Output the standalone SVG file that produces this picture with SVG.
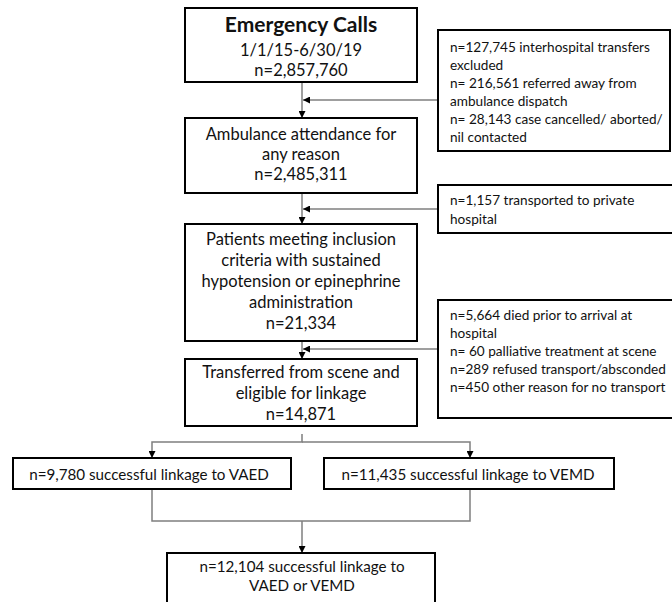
<svg xmlns="http://www.w3.org/2000/svg" width="672" height="602" viewBox="0 0 672 602">
<defs>
<style>
.box{fill:#fff;stroke:#000;stroke-width:2}
.t{font-family:Lato,"Open Sans",sans-serif;font-size:16.5px;fill:#111;text-anchor:middle}
.b{font-weight:bold;font-size:21px}
.m{font-size:15.2px}
.s{font-family:Lato,"Open Sans",sans-serif;font-size:13.6px;fill:#111}
.c{fill:none;stroke:#7f7f7f;stroke-width:1.5}
</style>
<marker id="ah" viewBox="0 0 10 10" refX="10" refY="5" markerWidth="7" markerHeight="7" markerUnits="userSpaceOnUse" orient="auto">
<path d="M0,0 L10,5 L0,10 z" fill="#000"/>
</marker>
</defs>
<rect width="672" height="602" fill="#fff"/>
<g id="connectors">
<path class="c" d="M302,82 V118" marker-end="url(#ah)"/>
<path class="c" d="M438,100 H303" marker-end="url(#ah)"/>
<path class="c" d="M302,193 V224" marker-end="url(#ah)"/>
<path class="c" d="M438,209 H303" marker-end="url(#ah)"/>
<path class="c" d="M302,341 V359" marker-end="url(#ah)"/>
<path class="c" d="M438,349 H303" marker-end="url(#ah)"/>
<path class="c" d="M302,434 V442 H152 V458" marker-end="url(#ah)"/>
<path class="c" d="M302,442 H470 V458" marker-end="url(#ah)"/>
<path class="c" d="M152,489 V521 H470 V489"/>
<path class="c" d="M302,521 V553" marker-end="url(#ah)"/>
</g>
<g id="n1">
<rect class="box" x="185" y="8" width="232" height="74"/>
<text class="t b" x="301" y="32">Emergency Calls</text>
<text class="t" x="301" y="56">1/1/15-6/30/19</text>
<text class="t" x="301" y="76">n=2,857,760</text>
</g>
<g id="n2">
<rect class="box" x="185" y="118" width="232" height="75"/>
<text class="t" x="301" y="140">Ambulance attendance for</text>
<text class="t" x="301" y="160">any reason</text>
<text class="t" x="301" y="180">n=2,485,311</text>
</g>
<g id="n3">
<rect class="box" x="185" y="224" width="232" height="117"/>
<text class="t" x="301" y="245">Patients meeting inclusion</text>
<text class="t" x="301" y="266">criteria with sustained</text>
<text class="t" x="301" y="287">hypotension or epinephrine</text>
<text class="t" x="301" y="308">administration</text>
<text class="t" x="301" y="329">n=21,334</text>
</g>
<g id="n4">
<rect class="box" x="185" y="359" width="232" height="67"/>
<text class="t" x="301" y="378">Transferred from scene and</text>
<text class="t" x="301" y="399">eligible for linkage</text>
<text class="t" x="301" y="420">n=14,871</text>
</g>
<g id="x1">
<rect class="box" x="438" y="30" width="232" height="121"/>
<text class="s" x="450" y="52">n=127,745 interhospital transfers</text>
<text class="s" x="450" y="70">excluded</text>
<text class="s" x="450" y="88">n= 216,561 referred away from</text>
<text class="s" x="450" y="106">ambulance dispatch</text>
<text class="s" x="450" y="124">n= 28,143 case cancelled/ aborted/</text>
<text class="s" x="450" y="142">nil contacted</text>
</g>
<g id="x2">
<rect class="box" x="438" y="185" width="240" height="48"/>
<text class="s" x="450" y="205">n=1,157 transported to private</text>
<text class="s" x="450" y="224">hospital</text>
</g>
<g id="x3">
<rect class="box" x="438" y="300" width="240" height="118"/>
<text class="s" x="450" y="320">n=5,664 died prior to arrival at</text>
<text class="s" x="450" y="338">hospital</text>
<text class="s" x="450" y="356">n= 60 palliative treatment at scene</text>
<text class="s" x="450" y="374">n=289 refused transport/absconded</text>
<text class="s" x="450" y="392">n=450 other reason for no transport</text>
</g>
<g id="vaed">
<rect class="box" x="13" y="458" width="278" height="31"/>
<text class="t m" x="149" y="480">n=9,780 successful linkage to VAED</text>
</g>
<g id="vemd">
<rect class="box" x="324" y="458" width="290" height="31"/>
<text class="t m" x="468" y="480">n=11,435 successful linkage to VEMD</text>
</g>
<g id="final">
<rect class="box" x="167" y="553" width="268" height="60"/>
<text class="t m" x="302" y="572">n=12,104 successful linkage to</text>
<text class="t m" x="302" y="591">VAED or VEMD</text>
</g>
</svg>
